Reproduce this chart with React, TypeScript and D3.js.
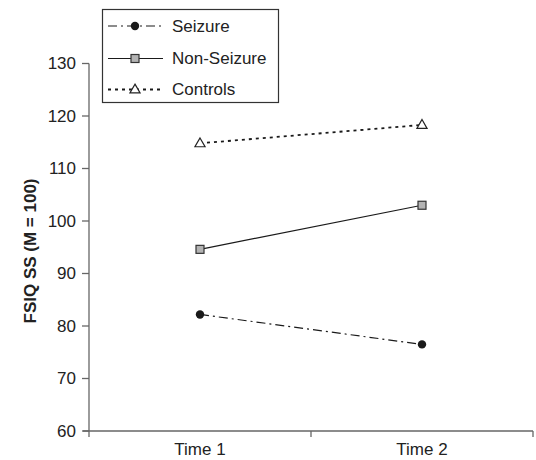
import React from "react";
import * as d3 from "d3";

const categories = ["Time 1", "Time 2"];
const seizure = [82.2, 76.5];
const nonSeizure = [94.6, 103.0];
const controls = [114.8, 118.3];
const yTicks = [60, 70, 80, 90, 100, 110, 120, 130];
const seriesNames = ["Seizure", "Non-Seizure", "Controls"];

const W = 536, H = 460;
const left = 89, right = 533, top = 63.5, bottom = 431;
const font = "Liberation Sans, Arial, Helvetica, sans-serif";

export default function App() {
  const x = d3.scaleBand<string>().domain(categories).range([left, right]);
  const y = d3.scaleLinear().domain([60, 130]).range([bottom, top]);
  const cx = (c: string) => (x(c) as number) + x.bandwidth() / 2;
  const line = d3.line<[string, number]>().x(d => cx(d[0])).y(d => y(d[1]));
  const pts = (vals: number[]) => categories.map((c, i) => [c, vals[i]] as [string, number]);

  const tri = (s = 9) => d3.symbol().type(d3.symbolTriangle).size(s * s * 0.55)() as string;

  const series = [
    { name: seriesNames[0], vals: seizure, dash: "9,4,2,4", width: 1.2, marker: "circle" },
    { name: seriesNames[1], vals: nonSeizure, dash: undefined, width: 1.2, marker: "square" },
    { name: seriesNames[2], vals: controls, dash: "3,4", width: 1.8, marker: "triangle" },
  ];

  const marker = (m: string, px: number, py: number, key: string) => {
    if (m === "circle") return <circle key={key} cx={px} cy={py} r={4.2} fill="#1a1a1a" />;
    if (m === "square")
      return <rect key={key} x={px - 4} y={py - 4} width={8} height={8} fill="#b3b3b3" stroke="#333" strokeWidth={1.2} />;
    return (
      <path key={key} d={tri()} transform={`translate(${px},${py + 0.5})`} fill="#fff" stroke="#222" strokeWidth={1.2} />
    );
  };

  const legendY = [26, 58.5, 89.5];

  return (
    <svg width={W} height={H} style={{ position: "absolute", left: 0, top: 0, fontFamily: font }}>
      <rect width={W} height={H} fill="#fff" />
      <line x1={left} x2={left} y1={top} y2={bottom} stroke="#666" strokeWidth={1.3} />
      {yTicks.map(t => (
        <g key={t}>
          <line x1={left - 7} x2={left} y1={y(t)} y2={y(t)} stroke="#666" strokeWidth={1.3} />
          <text x={left - 13} y={y(t)} dy="0.35em" textAnchor="end" fontSize={17} fill="#222">{t}</text>
        </g>
      ))}
      <line x1={83} x2={right} y1={bottom} y2={bottom} stroke="#666" strokeWidth={1.3} />
      {[left, ...categories.map(c => (x(c) as number) + x.bandwidth())].map((tx, i) => (
        <line key={i} x1={tx} x2={tx} y1={bottom} y2={bottom + 6} stroke="#666" strokeWidth={1.3} />
      ))}
      {categories.map(c => (
        <text key={c} x={cx(c)} y={455} textAnchor="middle" fontSize={17} fill="#222">{c}</text>
      ))}
      <text transform={`translate(36,251) rotate(-90)`} textAnchor="middle" fontSize={17} fontWeight="bold" fill="#222">
        FSIQ SS (M = 100)
      </text>
      {series.map(s => (
        <g key={s.name}>
          <path d={line(pts(s.vals)) as string} fill="none" stroke="#1a1a1a" strokeWidth={s.width} strokeDasharray={s.dash} />
          {categories.map((c, i) => marker(s.marker, cx(c), y(s.vals[i]), s.name + c))}
        </g>
      ))}
      <rect x={102.5} y={9.5} width={176} height={93} fill="#fff" stroke="#333" strokeWidth={1.2} />
      {series.map((s, i) => (
        <g key={s.name}>
          <line x1={108} x2={163} y1={legendY[i]} y2={legendY[i]} stroke="#1a1a1a" strokeWidth={s.width} strokeDasharray={s.dash} />
          {marker(s.marker, 135, legendY[i], "lg" + s.name)}
          <text x={172} y={legendY[i]} dy="0.35em" fontSize={17} fill="#222">{s.name}</text>
        </g>
      ))}
    </svg>
  );
}
